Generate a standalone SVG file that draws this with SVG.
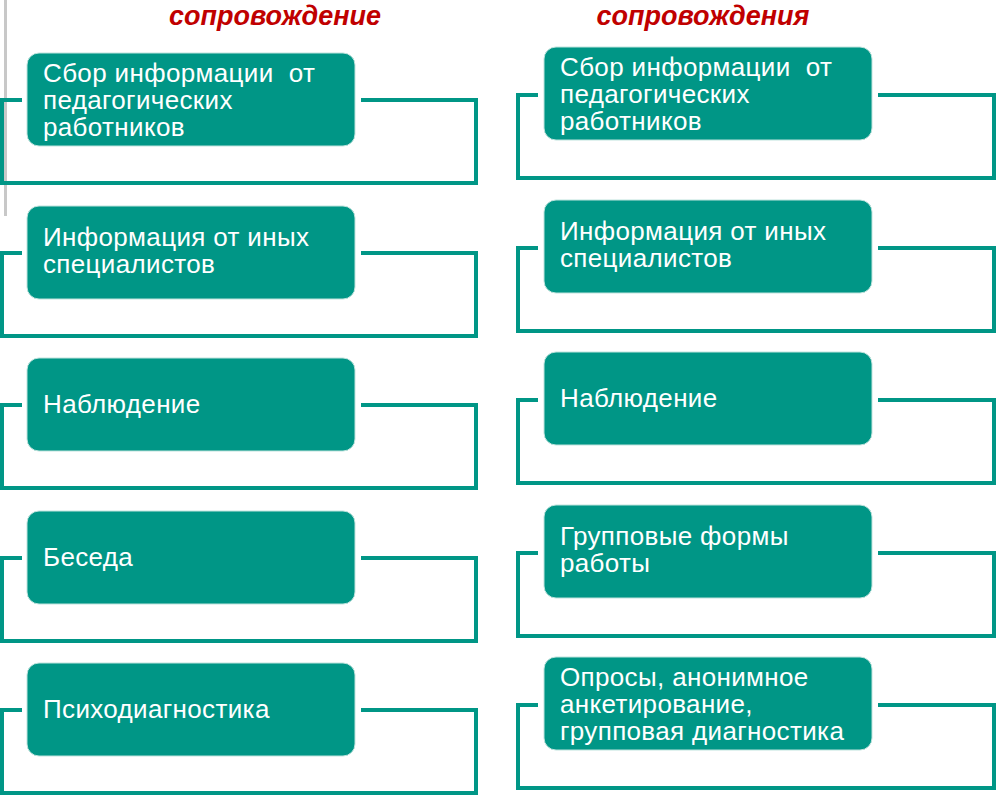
<svg xmlns="http://www.w3.org/2000/svg" width="1000" height="796" viewBox="0 0 1000 796">
<style>
.bg{fill:#ffffff}
.box{fill:#009686;stroke:#bfe3dd;stroke-width:1}
.br{fill:none;stroke:#009686;stroke-width:4}
.t{font-family:"Liberation Sans",Arial,sans-serif;font-size:26px;letter-spacing:0.35px;fill:#ffffff}
.h{font-family:"Liberation Sans",Arial,sans-serif;font-size:27px;font-weight:bold;font-style:italic;fill:#C00000;text-anchor:middle}
</style>
<rect class="bg" x="0" y="0" width="1000" height="796"/>
<line x1="5.5" y1="0" x2="5.5" y2="216" stroke="#c8c8c8" stroke-width="3"/>
<text class="h" x="275" y="25">сопровождение</text>
<text class="h" x="703" y="25">сопровождения</text>
<g id="connectors">
<path class="br" d="M22,100 H2 V183 H476 V100 H361"/>
<path class="br" d="M22,253 H2 V336 H476 V253 H361"/>
<path class="br" d="M22,405 H2 V488 H476 V405 H361"/>
<path class="br" d="M22,558 H2 V641 H476 V558 H361"/>
<path class="br" d="M22,710 H2 V793 H476 V710 H361"/>
<path class="br" d="M538,95 H518 V178 H994 V95 H878"/>
<path class="br" d="M538,248 H518 V331 H994 V248 H878"/>
<path class="br" d="M538,400 H518 V483 H994 V400 H878"/>
<path class="br" d="M538,553 H518 V636 H994 V553 H878"/>
<path class="br" d="M538,705 H518 V788 H994 V705 H878"/>
</g>
<g id="l1"><rect class="box" x="27" y="53" width="328" height="93" rx="12"/><text class="t" x="43" y="82" xml:space="preserve">Сбор информации  от</text><text class="t" x="43" y="109">педагогических</text><text class="t" x="43" y="136">работников</text></g>
<g id="l2"><rect class="box" x="27" y="206" width="328" height="93" rx="12"/><text class="t" x="43" y="246">Информация от иных</text><text class="t" x="43" y="273">специалистов</text></g>
<g id="l3"><rect class="box" x="27" y="358" width="328" height="93" rx="12"/><text class="t" x="43" y="413">Наблюдение</text></g>
<g id="l4"><rect class="box" x="27" y="511" width="328" height="93" rx="12"/><text class="t" x="43" y="566">Беседа</text></g>
<g id="l5"><rect class="box" x="27" y="663" width="328" height="93" rx="12"/><text class="t" x="43" y="718">Психодиагностика</text></g>
<g id="r1"><rect class="box" x="544" y="47" width="328" height="93" rx="12"/><text class="t" x="560" y="76" xml:space="preserve">Сбор информации  от</text><text class="t" x="560" y="103">педагогических</text><text class="t" x="560" y="130">работников</text></g>
<g id="r2"><rect class="box" x="544" y="200" width="328" height="93" rx="12"/><text class="t" x="560" y="240">Информация от иных</text><text class="t" x="560" y="267">специалистов</text></g>
<g id="r3"><rect class="box" x="544" y="352" width="328" height="93" rx="12"/><text class="t" x="560" y="407">Наблюдение</text></g>
<g id="r4"><rect class="box" x="544" y="505" width="328" height="93" rx="12"/><text class="t" x="560" y="545">Групповые формы</text><text class="t" x="560" y="572">работы</text></g>
<g id="r5"><rect class="box" x="544" y="657" width="328" height="93" rx="12"/><text class="t" x="560" y="686">Опросы, анонимное</text><text class="t" x="560" y="713">анкетирование,</text><text class="t" x="560" y="740">групповая диагностика</text></g>
</svg>
